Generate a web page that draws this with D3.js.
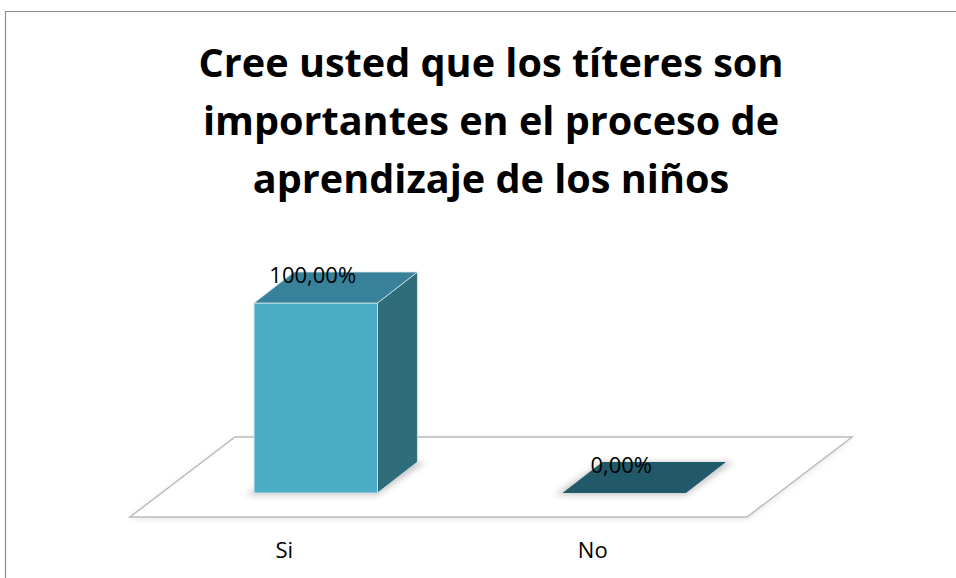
<!DOCTYPE html>
<html>
<head>
<meta charset="utf-8">
<script src="https://cdn.jsdelivr.net/npm/d3@7"></script>
<style>
  body { margin: 0; background: #fff; }
  svg { display: block; }
</style>
</head>
<body>
<div id="chart"></div>
<script>
(function() {
    var width = 956, height = 578;

    // data
    var categories = ["Si", "No"];
    var values = [1.0, 0.0];
    var valueLabels = ["100,00%", "0,00%"];
    var titleLines = ["Cree usted que los títeres son", "importantes en el proceso de", "aprendizaje de los niños"];

    var frontColors = ["#4bacc6", "#215968"];
    var topColors = ["#37829a", "#215968"];
    var sideColors = ["#306d7b", "#1d4f5c"];

    // floor geometry (front edge + depth offset)
    var floorLeft = 130, floorRight = 747, floorY = 517;
    var depthX = 105, depthY = -80;
    var barDepthX = 40, barDepthY = -31;
    var barPos = 0.3; // where bars stand within the floor depth

    var xPositionScale = d3.scaleBand()
        .domain(categories)
        .range([floorLeft, floorRight]);

    var yHeightScale = d3.scaleLinear()
        .domain([0, 1])
        .range([0, 190]);

    var svg = d3.select("#chart")
        .append("svg")
        .attr("width", width)
        .attr("height", height);

    var defs = svg.append("defs");
    var f = defs.append("filter").attr("id", "shadow")
        .attr("x", "-20%").attr("y", "-20%").attr("width", "140%").attr("height", "160%");
    f.append("feGaussianBlur").attr("stdDeviation", 3);

    // outer border
    svg.append("path")
        .attr("d", "M5.5," + height + "V11.5H" + width)
        .attr("fill", "none")
        .attr("stroke", "#8c8c8c")
        .attr("stroke-width", 1.2);

    // title
    var title = svg.append("text")
        .attr("text-anchor", "middle")
        .attr("font-family", "'Open Sans', 'Noto Sans', sans-serif")
        .attr("font-weight", "bold")
        .attr("font-size", 40)
        .attr("fill", "#000");

    title.selectAll("tspan")
        .data(titleLines)
        .enter().append("tspan")
        .attr("x", 491)
        .attr("y", function(d, i) { return 77 + i * 58; })
        .text(function(d) { return d; });

    // fit the first line to ~585px like the original
    var w0 = title.select("tspan").node().getComputedTextLength();
    title.attr("font-size", 40 * 585 / w0);

    // floor
    var floorPts = [
        [floorLeft, floorY], [floorRight, floorY],
        [floorRight + depthX, floorY + depthY], [floorLeft + depthX, floorY + depthY]
    ];
    svg.append("polygon")
        .attr("points", floorPts.map(function(p) { return p.join(","); }).join(" "))
        .attr("fill", "#ccc")
        .attr("opacity", 0.6)
        .attr("transform", "translate(0,1.5)")
        .attr("filter", "url(#shadow)");
    svg.append("polygon")
        .attr("points", floorPts.map(function(p) { return p.join(","); }).join(" "))
        .attr("fill", "#fff")
        .attr("stroke", "#bcbcbc")
        .attr("stroke-width", 1.5);

    var barWidth = xPositionScale.bandwidth() * 0.4;

    var bars = svg.selectAll(".bar")
        .data(categories)
        .enter().append("g")
        .attr("class", "bar");

    function frontLeft(d) {
        return xPositionScale(d) + xPositionScale.bandwidth() / 2 + depthX * barPos - barWidth / 2;
    }
    var baseY = floorY + depthY * barPos;

    // soft shadow on the floor
    bars.append("polygon")
        .attr("points", function(d) {
            var x0 = frontLeft(d) - 8, x1 = x0 + barWidth + 8;
            return [[x0, baseY + 2], [x1, baseY + 2], [x1 + barDepthX + 8, baseY + barDepthY], [x0 + barDepthX + 8, baseY + barDepthY]]
                .map(function(p) { return p.join(","); }).join(" ");
        })
        .attr("fill", "#999")
        .attr("opacity", 0.55)
        .attr("filter", "url(#shadow)");

    // side face
    bars.append("polygon")
        .attr("points", function(d, i) {
            var x1 = frontLeft(d) + barWidth, top = baseY - yHeightScale(values[i]);
            return [[x1, baseY], [x1, top], [x1 + barDepthX, top + barDepthY], [x1 + barDepthX, baseY + barDepthY]]
                .map(function(p) { return p.join(","); }).join(" ");
        })
        .attr("fill", function(d, i) { return sideColors[i]; })
        .attr("stroke", "#d6e8ee")
        .attr("stroke-width", 0.8);

    // front face
    bars.append("rect")
        .attr("x", frontLeft)
        .attr("y", function(d, i) { return baseY - yHeightScale(values[i]); })
        .attr("width", barWidth)
        .attr("height", function(d, i) { return yHeightScale(values[i]); })
        .attr("fill", function(d, i) { return frontColors[i]; })
        .attr("stroke", "#d6e8ee")
        .attr("stroke-width", 0.8);

    // top face
    bars.append("polygon")
        .attr("points", function(d, i) {
            var x0 = frontLeft(d), x1 = x0 + barWidth, top = baseY - yHeightScale(values[i]);
            return [[x0, top], [x1, top], [x1 + barDepthX, top + barDepthY], [x0 + barDepthX, top + barDepthY]]
                .map(function(p) { return p.join(","); }).join(" ");
        })
        .attr("fill", function(d, i) { return topColors[i]; })
        .attr("stroke", function(d, i) { return values[i] > 0 ? "#d6e8ee" : "none"; })
        .attr("stroke-width", 0.8);

    // value labels
    bars.append("text")
        .attr("x", function(d) { return frontLeft(d) + barWidth / 2 - 3; })
        .attr("y", function(d, i) { return baseY - yHeightScale(values[i]) - 20; })
        .attr("text-anchor", "middle")
        .attr("font-family", "'Open Sans', 'Noto Sans', sans-serif")
        .attr("font-size", 22)
        .attr("fill", "#000")
        .text(function(d, i) { return valueLabels[i]; });

    // category labels
    svg.selectAll(".cat-label")
        .data(categories)
        .enter().append("text")
        .attr("class", "cat-label")
        .attr("x", function(d) { return xPositionScale(d) + xPositionScale.bandwidth() / 2; })
        .attr("y", 558)
        .attr("text-anchor", "middle")
        .attr("font-family", "'Open Sans', 'Noto Sans', sans-serif")
        .attr("font-size", 22)
        .attr("fill", "#000")
        .text(function(d) { return d; });
})();
</script>
</body>
</html>
